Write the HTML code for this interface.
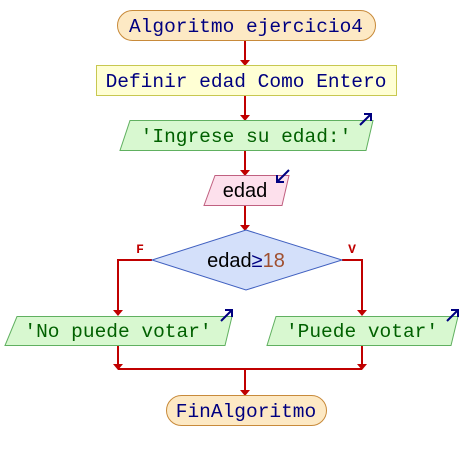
<!DOCTYPE html>
<html><head><meta charset="utf-8"><style>
html,body{margin:0;padding:0;background:#fff;}
svg{display:block;}
.m{font-family:"Liberation Mono",monospace;font-size:19.5px;}
.s{font-family:"Liberation Sans",sans-serif;font-size:20px;}
</style></head><body>
<svg width="462" height="460" viewBox="0 0 462 460" xmlns="http://www.w3.org/2000/svg">
<defs>
<marker id="a" markerWidth="10" markerHeight="7" refX="5" refY="6" orient="auto" markerUnits="userSpaceOnUse">
</marker>
</defs>
<g stroke="#c00000" stroke-width="2" fill="none">
<line x1="245" y1="40" x2="245" y2="63"/>
<line x1="245" y1="95" x2="245" y2="118"/>
<line x1="245" y1="150" x2="245" y2="173"/>
<line x1="245" y1="205" x2="245" y2="228"/>
<polyline points="152,260 118,260 118,313"/>
<polyline points="342,260 362,260 362,313"/>
<line x1="118" y1="345" x2="118" y2="367"/>
<line x1="362" y1="345" x2="362" y2="367"/>
<line x1="118" y1="369" x2="362" y2="369"/>
<line x1="245" y1="369" x2="245" y2="393"/>
</g>
<g fill="#c00000">
<polygon points="240,60 250,60 245,66"/>
<polygon points="240,115 250,115 245,121"/>
<polygon points="240,170 250,170 245,176"/>
<polygon points="240,225 250,225 245,231"/>
<polygon points="113,310 123,310 118,316"/>
<polygon points="357,310 367,310 362,316"/>
<polygon points="113,364 123,364 118,370"/>
<polygon points="357,364 367,364 362,370"/>
<polygon points="240,390 250,390 245,396"/>
</g>
<rect x="117.5" y="10.5" width="258" height="30" rx="15" fill="#fde9c4" stroke="#c88a3a"/>
<text x="246" y="32" text-anchor="middle" class="m" fill="#000080">Algoritmo ejercicio4</text>
<rect x="96.5" y="65.5" width="300" height="30" fill="#ffffd4" stroke="#c8c850"/>
<text x="246" y="87" text-anchor="middle" class="m" fill="#000080">Definir edad Como Entero</text>
<polygon points="130,120.5 373,120.5 366,150.5 120,150.5" fill="#d8f8d0" stroke="#60b060"/>
<text x="246" y="142" text-anchor="middle" class="m" fill="#006000">'Ingrese su edad:'</text>
<line x1="360" y1="125" x2="371" y2="114" stroke="#000080" stroke-width="2"/>
<polyline points="364,114 371,114 371,121" fill="none" stroke="#000080" stroke-width="2"/>
<polygon points="215,175.5 289,175.5 282,205.5 204,205.5" fill="#fde0ec" stroke="#c06080"/>
<text x="245" y="197" text-anchor="middle" class="s" fill="#000">edad</text>
<line x1="289" y1="170" x2="277" y2="182" stroke="#000080" stroke-width="2"/>
<polyline points="277,175 277,182 284,182" fill="none" stroke="#000080" stroke-width="2"/>
<polygon points="246,230 342,260 246,290 152,260" fill="#d4e0fa" stroke="#4060c0"/>
<text x="246" y="267" text-anchor="middle" class="s"><tspan fill="#000">edad</tspan><tspan fill="#000080">≥</tspan><tspan fill="#a05030">18</tspan></text>
<text x="140" y="253" text-anchor="middle" font-family="Liberation Mono,monospace" font-size="13" font-weight="bold" fill="#c00000">F</text>
<text x="352" y="253" text-anchor="middle" font-family="Liberation Mono,monospace" font-size="13" font-weight="bold" fill="#c00000">V</text>
<polygon points="17,316.5 232,316.5 225,345.5 5,345.5" fill="#d8f8d0" stroke="#60b060"/>
<text x="118" y="337" text-anchor="middle" class="m" fill="#006000">'No puede votar'</text>
<line x1="221" y1="321" x2="232" y2="310" stroke="#000080" stroke-width="2"/>
<polyline points="225,310 232,310 232,317" fill="none" stroke="#000080" stroke-width="2"/>
<polygon points="276,316.5 458,316.5 451,345.5 267,345.5" fill="#d8f8d0" stroke="#60b060"/>
<text x="362" y="337" text-anchor="middle" class="m" fill="#006000">'Puede votar'</text>
<line x1="447" y1="321" x2="458" y2="310" stroke="#000080" stroke-width="2"/>
<polyline points="451,310 458,310 458,317" fill="none" stroke="#000080" stroke-width="2"/>
<rect x="166.5" y="395.5" width="160" height="30" rx="15" fill="#fde9c4" stroke="#c88a3a"/>
<text x="246" y="417" text-anchor="middle" class="m" fill="#000080">FinAlgoritmo</text>
</svg>
</body></html>
